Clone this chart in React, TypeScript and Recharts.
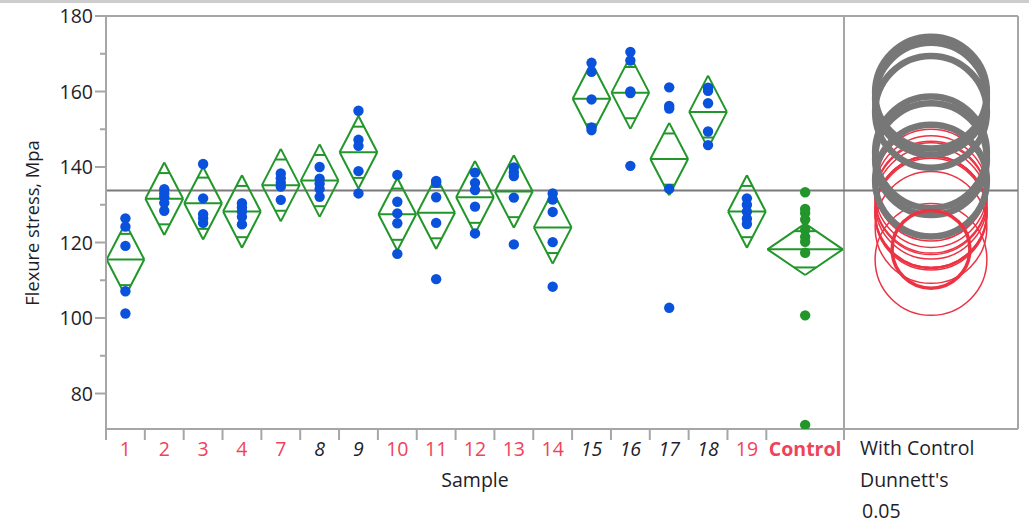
import React from 'react'
import { ComposedChart, Scatter, XAxis, YAxis, ReferenceLine, ReferenceDot } from 'recharts'

// groups in plot order, with sample size (controls the category width)
const groups = ['1', '2', '3', '4', '7', '8', '9', '10', '11', '12', '13', '14', '15', '16', '17', '18', '19', 'Control']
const counts = [5, 5, 5, 5, 5, 5, 5, 5, 5, 5, 5, 5, 5, 5, 5, 5, 5, 10]
// Dunnett's vs control at 0.05: true = significantly different (black italic, grey circle)
const significant = [false, false, false, false, false, true, true, false, false, false, false, false, true, true, true, true, false, false]
const means = [115.5, 131.6, 130.4, 128.2, 135.2, 136.4, 143.9, 127.5, 127.9, 132.0, 133.5, 124.0, 158.1, 159.7, 142.1, 154.6, 128.2, 118.2]
const ciHalf = [9.6, 9.6, 9.6, 9.6, 9.6, 9.6, 9.6, 9.6, 9.6, 9.6, 9.6, 9.6, 9.6, 9.6, 9.6, 9.6, 9.6, 6.8]
const circleRadius = [14.8, 14.8, 14.8, 14.8, 14.8, 14.8, 14.8, 14.8, 14.8, 14.8, 14.8, 14.8, 14.8, 14.8, 14.8, 14.8, 14.8, 10.3]
const samples: number[][] = [
  [126.4, 124.2, 119.1, 107.1, 101.2],
  [134.1, 133.0, 132.0, 130.5, 128.4],
  [140.8, 131.7, 127.5, 126.4, 125.2],
  [130.4, 129.3, 128.2, 126.8, 124.8],
  [138.3, 137.0, 135.8, 134.8, 131.3],
  [140.0, 136.9, 135.6, 134.2, 132.1],
  [154.9, 147.2, 145.6, 138.9, 133.0],
  [137.9, 130.8, 127.7, 125.1, 117.0],
  [136.3, 135.9, 132.0, 125.2, 110.3],
  [138.5, 135.8, 133.9, 129.5, 122.4],
  [139.9, 138.6, 137.6, 131.9, 119.5],
  [133.0, 131.4, 128.1, 120.1, 108.3],
  [167.6, 165.2, 157.9, 150.5, 149.8],
  [170.5, 168.2, 160.0, 159.6, 140.3],
  [161.1, 156.2, 155.5, 134.2, 102.7],
  [161.0, 160.2, 156.9, 149.4, 145.8],
  [131.7, 130.0, 128.2, 126.3, 124.9],
  [133.3, 128.9, 127.8, 126.1, 123.3, 121.5, 120.2, 117.3, 100.7, 71.7],
]
const GRAND_MEAN = 133.8
const yTicks = [80, 90, 100, 110, 120, 130, 140, 150, 160, 170, 180]

const W = 1035
const H = 523
const M = { top: 16, right: 17, bottom: 34, left: 0 }
const Y_AXIS_W = 106
const X_AXIS_H = 60
const PLOT_H = H - M.top - M.bottom - X_AXIS_H
const Y_MIN = 70.6
const Y_MAX = 180
const PX_PER_Y = PLOT_H / (Y_MAX - Y_MIN)

const FONT = '"Open Sans", sans-serif'
const FS = 19.5
const INK = '#1e1e2a'
const AXIS = '#a6a6a6'
const RED = '#f0435a'
const GREEN = '#22962a'
const BLUE = '#0a52dc'

// category widths proportional to n
const widths = counts.map(n => n / 5)
const starts = widths.map((_, i) => widths.slice(0, i).reduce((a, b) => a + b, 0))
const centers = starts.map((s, i) => s + widths[i] / 2)
const SPLIT = starts[starts.length - 1] + widths[widths.length - 1]
const X_MAX = SPLIT * (W - M.left - M.right - Y_AXIS_W) / 738
const PANEL_X = (SPLIT + X_MAX) / 2

const boundaries = [...starts, SPLIT]
const xTicks = [...boundaries, ...centers].sort((a, b) => a - b)
const labelAt = new Map(centers.map((c, i) => [c.toFixed(3), i]))

const pointData = samples.flatMap((vals, i) => vals.map(v => ({ x: centers[i], y: v, g: i })))
const testPoints = pointData.filter(p => groups[p.g] !== 'Control')
const controlPoints = pointData.filter(p => groups[p.g] === 'Control')

type Seg = [{ x: number; y: number }, { x: number; y: number }]
const diamondSegs: Seg[] = []
means.forEach((m, i) => {
  const c = centers[i]
  const hw = widths[i] * 0.485
  const ci = ciHalf[i]
  const L = c - hw, R = c + hw
  diamondSegs.push([{ x: L, y: m }, { x: c, y: m + ci }])
  diamondSegs.push([{ x: c, y: m + ci }, { x: R, y: m }])
  diamondSegs.push([{ x: R, y: m }, { x: c, y: m - ci }])
  diamondSegs.push([{ x: c, y: m - ci }, { x: L, y: m }])
  diamondSegs.push([{ x: L, y: m }, { x: R, y: m }])
  // overlap marks
  const k = Math.SQRT1_2
  const ow = hw * (1 - k)
  diamondSegs.push([{ x: c - ow, y: m + ci * k }, { x: c + ow, y: m + ci * k }])
  diamondSegs.push([{ x: c - ow, y: m - ci * k }, { x: c + ow, y: m - ci * k }])
})

const YTick = ({ x, y, payload }: any) => {
  const major = payload.value % 20 === 0
  return (
    <g>
      <line x1={x - (major ? 11 : 6)} x2={x} y1={y} y2={y} stroke={AXIS} strokeWidth={2} />
      {major && (
        <text x={x - 13} y={y + 7} textAnchor="end" fontSize={FS} fontFamily={FONT} fill={INK}>
          {payload.value}
        </text>
      )}
    </g>
  )
}

const XTick = ({ x, y, payload }: any) => {
  const idx = labelAt.get(Number(payload.value).toFixed(3))
  if (idx === undefined) {
    return <line x1={x} x2={x} y1={y} y2={y + 11} stroke={AXIS} strokeWidth={2} />
  }
  const name = groups[idx]
  const ctrl = name === 'Control'
  return (
    <text
      x={x}
      y={y + 27}
      textAnchor="middle"
      fontSize={FS}
      fontFamily={FONT}
      fontStyle={significant[idx] ? 'italic' : 'normal'}
      fontWeight={ctrl ? 700 : 400}
      fill={significant[idx] ? INK : RED}
    >
      {name}
    </text>
  )
}

const Dot = (color: string) => (p: any) => <circle cx={p.cx} cy={p.cy} r={5.2} fill={color} />

export default function App() {
  return (
    <div style={{ position: 'absolute', left: 0, top: 0, width: W, height: H, background: '#fff', overflow: 'hidden' }}>
      <div style={{ position: 'absolute', left: 0, top: 0, width: 1029, height: 3, background: '#cdcdcd' }} />
      <ComposedChart width={W} height={H} margin={M}>
        <XAxis
          type="number"
          dataKey="x"
          domain={[0, X_MAX]}
          ticks={xTicks}
          interval={0}
          tick={<XTick />}
          tickLine={false}
          tickSize={0}
          tickMargin={0}
          height={X_AXIS_H}
          axisLine={{ stroke: AXIS, strokeWidth: 2 }}
          allowDataOverflow
        />
        <YAxis
          type="number"
          dataKey="y"
          domain={[Y_MIN, Y_MAX]}
          ticks={yTicks}
          interval={0}
          tick={<YTick />}
          tickLine={false}
          tickSize={0}
          tickMargin={0}
          width={Y_AXIS_W}
          axisLine={{ stroke: AXIS, strokeWidth: 2 }}
          allowDataOverflow
        />
        <ReferenceLine y={Y_MAX} stroke={AXIS} strokeWidth={2} />
        <ReferenceLine x={X_MAX} stroke={AXIS} strokeWidth={2} />
        <ReferenceLine x={SPLIT} stroke={AXIS} strokeWidth={2} />
        <ReferenceLine y={GRAND_MEAN} stroke="#7a7a7a" strokeWidth={2} />

        {diamondSegs.map((s, i) => (
          <ReferenceLine key={'d' + i} segment={s} stroke={GREEN} strokeWidth={2} ifOverflow="visible" />
        ))}

        <Scatter data={testPoints} shape={Dot(BLUE)} isAnimationActive={false} />
        <Scatter data={controlPoints} shape={Dot(GREEN)} isAnimationActive={false} />

        {means.map((m, i) =>
          !significant[i] && groups[i] !== 'Control' ? (
            <ReferenceDot key={'r' + i} x={PANEL_X} y={m} r={circleRadius[i] * PX_PER_Y} fill="none" stroke="#ec3344" strokeWidth={1.5} ifOverflow="visible" />
          ) : null
        )}
        {means.map((m, i) =>
          significant[i] ? (
            <ReferenceDot key={'g' + i} x={PANEL_X} y={m} r={circleRadius[i] * PX_PER_Y} fill="none" stroke="#777777" strokeWidth={6.5} ifOverflow="visible" />
          ) : null
        )}
        {means.map((m, i) =>
          groups[i] === 'Control' ? (
            <ReferenceDot key={'c' + i} x={PANEL_X} y={m} r={circleRadius[i] * PX_PER_Y} fill="none" stroke="#ec3344" strokeWidth={3.5} ifOverflow="visible" />
          ) : null
        )}
      </ComposedChart>
      <svg width={W} height={H} style={{ position: 'absolute', left: 0, top: 0, pointerEvents: 'none' }}>
        <text x={475} y={487} textAnchor="middle" fontSize={FS} fontFamily={FONT} fill={INK}>Sample</text>
        <text x={860} y={455} fontSize={FS} fontFamily={FONT} fill={INK}>With Control</text>
        <text x={860} y={487} fontSize={FS} fontFamily={FONT} fill={INK}>Dunnett's</text>
        <text x={862} y={518} fontSize={FS} fontFamily={FONT} fill={INK}>0.05</text>
        <text x={39} y={223} transform="rotate(-90 39 223)" textAnchor="middle" fontSize={18.3} fontFamily={FONT} fill={INK}>
          Flexure stress, Mpa
        </text>
      </svg>
    </div>
  )
}
